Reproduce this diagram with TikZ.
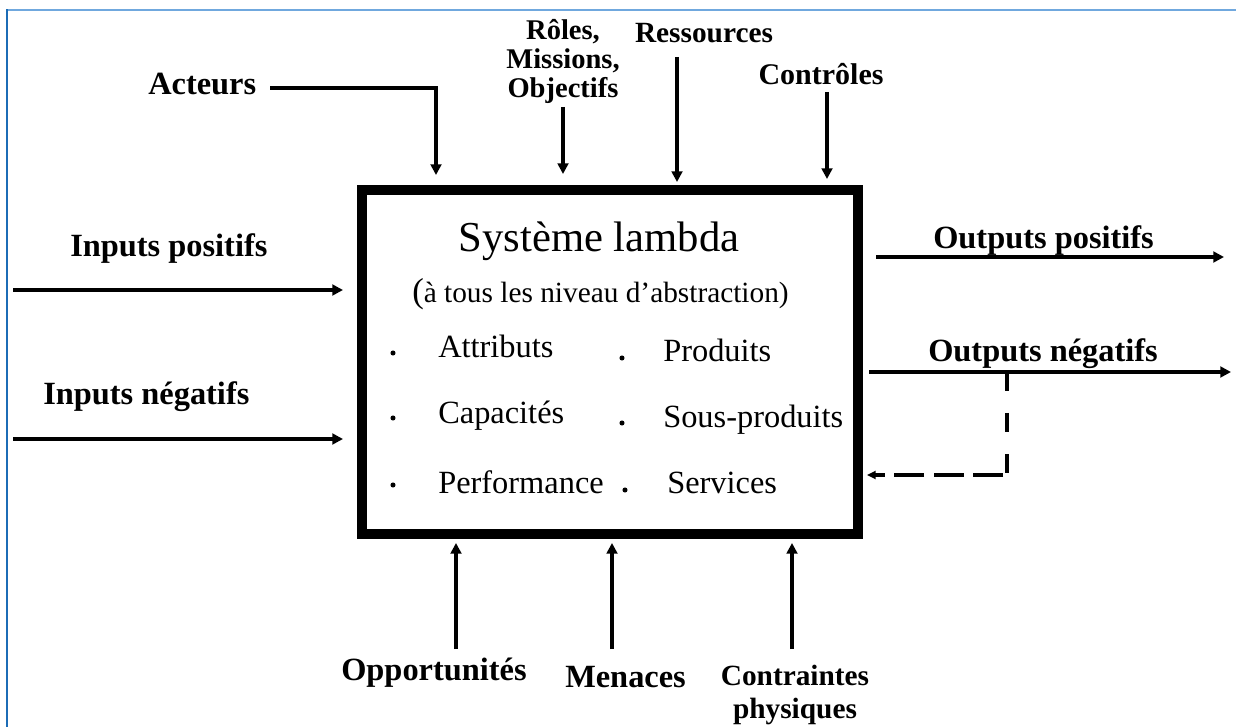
\documentclass[tikz,border=0pt]{standalone}
\usepackage{fontspec}
\setmainfont{Liberation Serif}
\usetikzlibrary{arrows.meta}
\definecolor{bordtop}{RGB}{112,168,222}
\definecolor{bordleft}{RGB}{28,108,182}
\begin{document}
\begin{tikzpicture}[x=0.75pt,y=-0.75pt,
  lbl/.style={font=\fontsize{24.3}{28}\selectfont\bfseries, inner sep=0pt},
  lbls/.style={font=\fontsize{22}{24.75}\selectfont\bfseries, inner sep=0pt},
  item/.style={font=\fontsize{24.3}{28}\selectfont, inner sep=0pt, anchor=base west},
  arr/.style={line width=2.5pt, -{Triangle[length=8pt,width=8pt]}},
  dline/.style={line width=2.5pt, dash pattern=on 14.25pt off 16.5pt},
  darr/.style={line width=2.5pt, dash pattern=on 22.5pt off 7.1pt, -{Triangle[length=6.5pt,width=6pt]}},
  bul/.style={circle, fill=black, inner sep=0pt, minimum size=3.8pt},
]
\useasboundingbox (0,0) rectangle (1236,727);
% frame lines
\draw[bordtop, line width=1.3pt] (7,10) -- (1236,10);
\draw[bordleft, line width=1.5pt] (7,9.5) -- (7,727);

% main box
\node[draw, line width=7.4pt, minimum width=372pt, minimum height=258pt, inner sep=0pt] (sys) at (610,362) {};

% box content
\node[anchor=base, inner sep=0pt, font=\fontsize{32}{36}\selectfont] (title) at (599,252) {Système lambda};
\node[anchor=base west, inner sep=0pt] (abs) at (412,303) {{\fontsize{26}{28}\selectfont (}{\fontsize{22}{26}\selectfont à tous les niveau d’abstraction)}};
\node[bul] (b1) at (393,353) {};
\node[bul] (b2) at (393,418) {};
\node[bul] (b3) at (393,485) {};
\node[bul] (b4) at (622,358) {};
\node[bul] (b5) at (622,423) {};
\node[bul] (b6) at (625,490) {};
\node[item] (t1) at (438,358) {Attributs};
\node[item] (t2) at (438,423) {Capacités};
\node[item] (t3) at (438,493) {Performance};
\node[item] (t4) at (663,362) {Produits};
\node[item] (t5) at (663,427) {Sous-produits};
\node[item] (t6) at (667,493) {Services};

% labels
\node[lbl, anchor=base west] (act) at (148,95) {Acteurs};
\node[anchor=base, inner sep=0pt, font=\fontsize{21.4}{21.4}\selectfont\bfseries] (rol) at (563,40) {\begin{tabular}[t]{@{}c@{}}Rôles,\\Missions,\\Objectifs\end{tabular}};
\node[lbls, anchor=base] (res) at (704,43) {Ressources};
\node[lbls, anchor=base, font=\fontsize{22.5}{25}\selectfont\bfseries] (con) at (821,85) {Contrôles};
\node[lbl, anchor=base west] (inp) at (70,257) {Inputs positifs};
\node[lbl, anchor=base west] (inn) at (43,405) {Inputs négatifs};
\node[lbl, anchor=base west] (outp) at (933,249) {Outputs positifs};
\node[lbl, anchor=base west] (outn) at (928,362) {Outputs négatifs};
\node[lbl, anchor=base west] (opp) at (341,680) {Opportunités};
\node[lbl, anchor=base west] (men) at (565,687) {Menaces};
\node[lbls, anchor=base] (cp) at (795,685) {\begin{tabular}[t]{@{}c@{}}Contraintes\\physiques\end{tabular}};

% connector end points
\coordinate (actA) at (270,88);
\coordinate (actB) at (436,88);
\coordinate (actC) at (436,175);
\coordinate (rolA) at (563,107);
\coordinate (rolB) at (563,174);
\coordinate (resA) at (677,57);
\coordinate (resB) at (677,182);
\coordinate (conA) at (827,92);
\coordinate (conB) at (827,179);
\coordinate (inpA) at (13,290);
\coordinate (inpB) at (343,290);
\coordinate (innA) at (13,439);
\coordinate (innB) at (343,439);
\coordinate (outpA) at (876,257);
\coordinate (outpB) at (1224,257);
\coordinate (outnA) at (869,372);
\coordinate (outnB) at (1231,372);
\coordinate (fbA) at (1007,372);
\coordinate (fbB) at (1007,473);
\coordinate (fbC) at (1003,475);
\coordinate (fbD) at (867,475);
\coordinate (oppA) at (456,649);
\coordinate (oppB) at (456,543);
\coordinate (menA) at (612,649);
\coordinate (menB) at (612,543);
\coordinate (cpA) at (792,649);
\coordinate (cpB) at (792,543);

% connectors
\draw[arr] (actA) -- (actB) -- (actC);
\draw[arr] (rolA) -- (rolB);
\draw[arr] (resA) -- (resB);
\draw[arr] (conA) -- (conB);
\draw[arr] (inpA) -- (inpB);
\draw[arr] (innA) -- (innB);
\draw[arr] (outpA) -- (outpB);
\draw[arr] (outnA) -- (outnB);
\draw[dline] (fbA) -- (fbB);
\draw[darr] (fbC) -- (fbD);
\draw[arr] (oppA) -- (oppB);
\draw[arr] (menA) -- (menB);
\draw[arr] (cpA) -- (cpB);
\end{tikzpicture}
\end{document}
